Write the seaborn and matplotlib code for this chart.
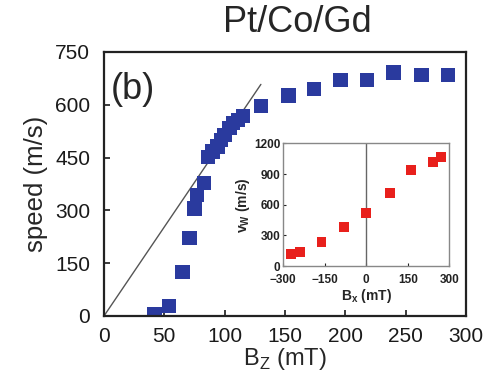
import numpy as np
import pandas as pd
import matplotlib.pyplot as plt
import seaborn as sb

# Main panel: domain wall speed vs out-of-plane field
bz = [42, 54, 65, 71, 75, 77, 83, 86, 90, 94, 97, 100, 104, 107, 111, 115,
      130, 153, 174, 196, 218, 240, 263, 285]
speed = [5, 28, 125, 221, 306, 344, 378, 452, 467, 481, 500, 514, 534, 548, 557, 568,
         597, 626, 645, 670, 670, 692, 685, 685]

# Linear guide line
fit_x = [0, 130]
fit_y = [0, 658]

# Inset: speed vs in-plane field
bx = [-270, -240, -161, -81, -1, 86, 163, 240, 270]
vw = [117, 140, 238, 385, 522, 711, 939, 1014, 1063]

main_ticks_x = [0, 50, 100, 150, 200, 250, 300]
main_ticks_y = [0, 150, 300, 450, 600, 750]
inset_ticks_x = [-300, -150, 0, 150, 300]
inset_ticks_y = [0, 300, 600, 900, 1200]

sb.set_style("ticks")
plt.rcParams['font.family'] = ['Liberation Sans', 'DejaVu Sans']

dfMain = pd.DataFrame({'bz': bz, 'speed': speed})
dfIns = pd.DataFrame({'bx': bx, 'vw': vw})

fig = plt.figure(figsize=(4.85, 3.88), dpi=100)
ax = fig.add_axes([0.2144, 0.1856, 0.7466, 0.6804])

ax.plot(fit_x, fit_y, color='#555555', lw=1.0, zorder=1)
sb.scatterplot(data=dfMain, x='bz', y='speed', marker='s', s=110, color='#2a3a9e',
               edgecolor='none', ax=ax, zorder=2)

ax.set_xlim(0, 300)
ax.set_ylim(0, 750)
ax.set_xticks(main_ticks_x)
ax.set_yticks(main_ticks_y)
ax.tick_params(direction='in', length=4, width=1.2, labelsize=15, colors='#1a1a1a')
ax.tick_params(axis='x', pad=8)
ax.tick_params(axis='y', pad=10)
for sp in ax.spines.values():
    sp.set_linewidth(1.6)
    sp.set_color('#222222')
ax.set_xlabel('B$_\\mathregular{Z}$ (mT)', fontsize=17, labelpad=0)
ax.set_ylabel('speed (m/s)', fontsize=18.5, labelpad=5)
ax.text(0.02, 0.925, '(b)', transform=ax.transAxes, fontsize=26, va='top', ha='left')
fig.text(0.614, 0.943, 'Pt/Co/Gd', fontsize=26, ha='center', va='center')

# Inset
axi = fig.add_axes([0.5835, 0.314, 0.3430, 0.3166])
axi.axvline(0, color='#666666', lw=1.0, zorder=1)
sb.scatterplot(data=dfIns, x='bx', y='vw', marker='s', s=50, color='#e8201c',
               edgecolor='none', ax=axi, zorder=2)
axi.set_xlim(-300, 300)
axi.set_ylim(0, 1200)
axi.set_xticks(inset_ticks_x)
axi.set_yticks(inset_ticks_y)
axi.tick_params(direction='in', length=2, width=0.8, labelsize=8.5, colors='#222222')
axi.tick_params(axis='x', pad=5.5)
axi.tick_params(axis='y', pad=2)
for lbl in axi.get_xticklabels() + axi.get_yticklabels():
    lbl.set_fontweight('bold')
for sp in axi.spines.values():
    sp.set_linewidth(1.0)
    sp.set_color('#888888')
axi.set_xlabel('B$_\\mathregular{x}$ (mT)', fontsize=10, fontweight='bold', labelpad=1)
axi.set_ylabel('v$_\\mathregular{W}$ (m/s)', fontsize=10, fontweight='bold', labelpad=1)

fig.savefig('out.png', dpi=100)
